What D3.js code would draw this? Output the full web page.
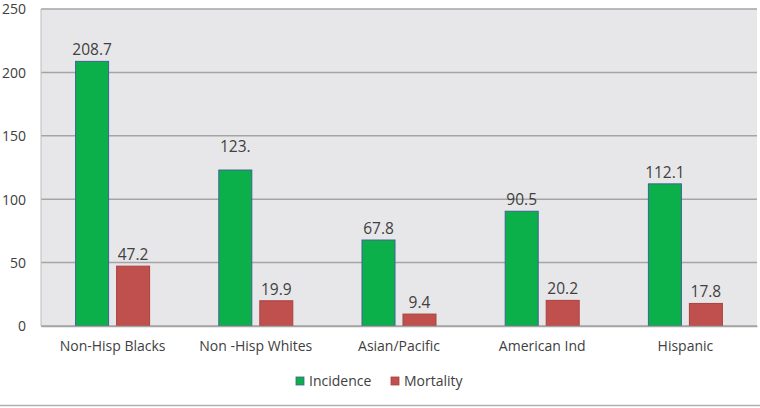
<!DOCTYPE html>
<html><head><meta charset="utf-8">
<script src="https://cdn.jsdelivr.net/npm/d3@7"></script>
<style>body{margin:0;background:#fff}svg{display:block}text{font-family:"Open Sans",sans-serif;fill:#404040}</style>
</head><body>
<svg id="c" width="760" height="408"></svg>
<script>
const categories = ["Non-Hisp Blacks","Non -Hisp Whites","Asian/Pacific","American Ind","Hispanic"];
const incidence = [208.7,123.0,67.8,90.5,112.1];
const mortality = [47.2,19.9,9.4,20.2,17.8];
const incidenceLabels = ["208.7","123.","67.8","90.5","112.1"];
const mortalityLabels = ["47.2","19.9","9.4","20.2","17.8"];
const seriesNames = ["Incidence","Mortality"];
const yTicks = [0,50,100,150,200,250];

const svg = d3.select("#c");
const L=41,R=757,T=9,B=326;
const x = d3.scaleBand().domain(categories).range([L,R]).padding(0);
const y = d3.scaleLinear().domain([0,250]).range([B,T]);
const colors = {Incidence:"#0cb04a",Mortality:"#c0504d"};
const strokes = {Incidence:"#3d6394",Mortality:"#a8423f"};

svg.append("rect").attr("x",L).attr("y",T).attr("width",R-L).attr("height",B-T).attr("fill","#e7e7e9");
svg.append("g").selectAll("line").data(yTicks).join("line")
  .attr("x1",L).attr("x2",R).attr("y1",d=>y(d)).attr("y2",d=>y(d))
  .attr("stroke","#a5a5a5").attr("stroke-width",1.5);
svg.append("line").attr("x1",L).attr("x2",L).attr("y1",T).attr("y2",B).attr("stroke","#bdbdbd");

const yAxis = d3.axisLeft(y).tickValues(yTicks).tickSize(0).tickPadding(15);
const ga = svg.append("g").attr("transform",`translate(${L},0)`).call(yAxis);
ga.select(".domain").remove();
ga.selectAll("text").style("font-size","14px").attr("fill","#404040").attr("dy","0.35em");

const inner = d3.scaleBand().domain(seriesNames).range([0,x.bandwidth()]).paddingInner(0.195).paddingOuter(0.844);
const series = [
  {name:"Incidence",vals:incidence,labels:incidenceLabels},
  {name:"Mortality",vals:mortality,labels:mortalityLabels}
];
series.forEach(s=>{
  const g = svg.append("g");
  g.selectAll("rect").data(s.vals).join("rect")
    .attr("x",(d,i)=>x(categories[i])+inner(s.name))
    .attr("y",d=>y(d)).attr("width",inner.bandwidth()).attr("height",d=>B-y(d))
    .attr("fill",colors[s.name]).attr("stroke",strokes[s.name]).attr("stroke-width",1);
  g.selectAll("text").data(s.vals).join("text")
    .attr("x",(d,i)=>x(categories[i])+inner(s.name)+inner.bandwidth()/2)
    .attr("y",(d,i)=>y(d)-6-(s.labels[i].endsWith(".")?12:0))
    .attr("text-anchor","middle").style("font-size","15.5px")
    .text((d,i)=>s.labels[i]);
});

const xAxis = d3.axisBottom(x).tickSize(0).tickPadding(15);
const gx = svg.append("g").attr("transform",`translate(0,${B})`).call(xAxis);
gx.select(".domain").attr("stroke","#a5a5a5").attr("stroke-width",1.5);
gx.selectAll("text").style("font-size","14px").attr("fill","#404040");

const leg = svg.append("g");
const lx=[296,391];
seriesNames.forEach((n,i)=>{
  leg.append("rect").attr("x",lx[i]).attr("y",377).attr("width",8).attr("height",8)
    .attr("fill",colors[n]).attr("stroke",strokes[n]).attr("stroke-width",0.8);
  leg.append("text").attr("x",lx[i]+13).attr("y",381).attr("dy","0.35em").style("font-size","14px").text(n);
});
svg.append("line").attr("x1",0).attr("x2",760).attr("y1",405.5).attr("y2",405.5).attr("stroke","#b0b0b0").attr("stroke-width",1.5);
</script>
</body></html>
